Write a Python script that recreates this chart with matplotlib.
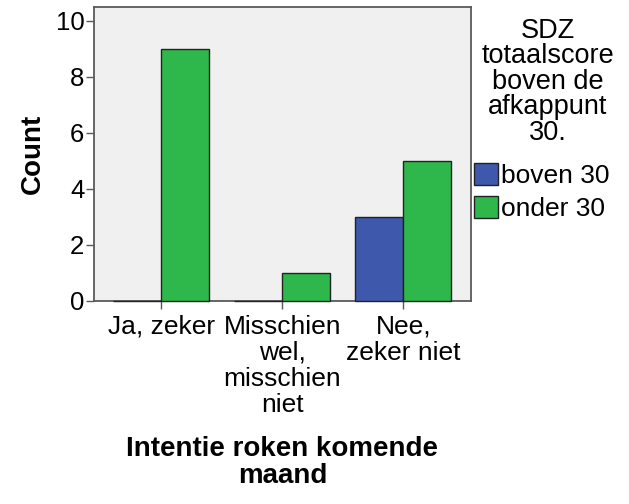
import numpy as np
import matplotlib.pyplot as plt
from matplotlib.patches import Patch

plt.rcParams['font.family'] = ['Liberation Sans', 'DejaVu Sans']

# Data
categories = ['Ja, zeker', 'Misschien\nwel,\nmisschien\nniet', 'Nee,\nzeker niet']
boven_30 = [0, 0, 3]
onder_30 = [9, 1, 5]
series_names = ['boven 30', 'onder 30']
legend_title = 'SDZ\ntotaalscore\nboven de\nafkappunt\n30.'
yticks = [0, 2, 4, 6, 8, 10]

blue = '#3E58AC'
green = '#2EB84B'
frame_col = '#5a5a5a'

fig = plt.figure(figsize=(6.29, 5.04), dpi=100)
ax = fig.add_axes([94 / 629, 1 - 301 / 504, (471 - 94) / 629, (301 - 7) / 504])
ax.set_facecolor('#F0F0F0')

x = np.arange(len(categories))
w = 0.397
ax.bar(x - w / 2, boven_30, w, color=blue, edgecolor='#222222', linewidth=1, zorder=3, clip_on=False)
ax.bar(x + w / 2, onder_30, w, color=green, edgecolor='#222222', linewidth=1, zorder=3, clip_on=False)

ax.set_xlim(-0.555, 2.56)
ax.set_ylim(0, 10.5)
ax.set_xticks(x)
ax.set_xticklabels(categories, fontsize=19, linespacing=1.1)
ax.set_yticks(yticks)
ax.set_yticklabels([str(v) for v in yticks], fontsize=18.5)
ax.tick_params(axis='both', length=6, width=1, color=frame_col, pad=1)
ax.tick_params(axis='x', pad=4)
for s in ax.spines.values():
    s.set_color(frame_col)
    s.set_linewidth(1.3)

ax.set_ylabel('Count', fontsize=20, fontweight='bold', labelpad=7)
ax.set_xlabel('Intentie roken komende\nmaand', fontsize=20, fontweight='bold',
              labelpad=14, linespacing=1.05)

# legend title as separate centred text block
fig.text(548 / 629, 1 - 18 / 504, legend_title, ha='center', va='top',
         multialignment='center', fontsize=19.5, linespacing=0.97)

handles = [Patch(facecolor=blue, edgecolor='#222222'),
           Patch(facecolor=green, edgecolor='#222222')]
fig.legend(handles, series_names, loc='upper left',
           bbox_to_anchor=(474 / 629, 1 - 163 / 504), frameon=False,
           fontsize=19, handlelength=0.91, handleheight=0.91,
           handletextpad=0.1, labelspacing=0.31, borderpad=0, borderaxespad=0)

fig.savefig('out.png', dpi=100)
